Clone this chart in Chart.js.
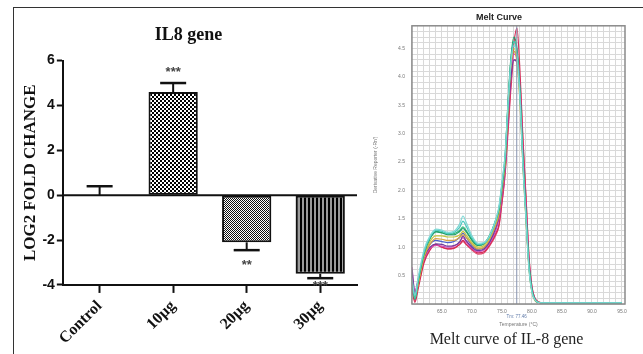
<!DOCTYPE html>
<html>
<head>
<meta charset="utf-8">
<script src="https://cdn.jsdelivr.net/npm/chart.js@4.4.1/dist/chart.umd.min.js"></script>
<style>
  html, body { margin: 0; padding: 0; background: #fff; }
  #wrap { position: relative; width: 643px; height: 354px; overflow: hidden; background: #fff; }
  #frame { position: absolute; left: 13px; top: 7px; width: 640px; height: 360px;
           border-top: 1.5px solid #333; border-left: 1.5px solid #333; }
  #c1 { position: absolute; left: 0; top: 0; }
  #c2 { position: absolute; left: 370px; top: 8px; }
  #caption { position: absolute; left: 370px; top: 330px; width: 273px; text-align: center;
             font-family: 'Liberation Serif', serif; font-size: 16px; color: #222; }
</style>
</head>
<body>
<div id="wrap">
  <div id="frame"></div>
  <canvas id="c1" width="365" height="354"></canvas>
  <canvas id="c2" width="273" height="346"></canvas>
  <div id="caption">Melt curve of IL-8 gene</div>
</div>
<script>
// ---------- Left panel data ----------
const categories = ['Control', '10µg', '20µg', '30µg'];
const foldChange = [0, 4.6, -2.1, -3.5];
const foldError = [0.4, 0.4, 0.35, 0.2];
const significance = ['', '***', '**', '***'];

// ---------- Right panel data (melt curve) ----------
const temps = [60, 60.5, 61, 62, 63, 64, 65, 66, 67, 68, 68.5, 69, 70, 71, 72, 73, 74, 74.5, 75, 75.5, 76, 76.5, 77, 77.5, 78, 78.5, 79, 79.5, 80, 80.5, 81, 82, 85, 90, 95];
const cyanA   = [0.45,0.15,0.45,0.95,1.20,1.32,1.30,1.26,1.28,1.42,1.55,1.45,1.20,1.07,1.08,1.22,1.50,1.72,2.15,2.60,3.50,4.25,4.55,4.35,3.60,2.40,1.50,0.60,0.20,0.07,0.03,0.02,0.02,0.02,0.02];
const cyanB   = [0.40,0.10,0.40,0.90,1.17,1.30,1.28,1.24,1.26,1.36,1.46,1.38,1.17,1.05,1.07,1.20,1.48,1.70,2.12,2.60,3.50,4.30,4.62,4.40,3.70,2.50,1.55,0.65,0.22,0.08,0.03,0.02,0.02,0.02,0.02];
const greenA  = [0.38,0.08,0.38,0.88,1.15,1.27,1.25,1.22,1.22,1.28,1.33,1.28,1.12,1.03,1.06,1.22,1.50,1.68,2.10,2.55,3.55,4.35,4.70,4.50,3.75,2.55,1.60,0.70,0.25,0.08,0.03,0.02,0.02,0.02,0.02];
const greenB  = [0.42,0.12,0.40,0.90,1.16,1.28,1.26,1.23,1.24,1.30,1.36,1.30,1.14,1.04,1.07,1.22,1.48,1.66,2.08,2.52,3.50,4.30,4.62,4.45,3.72,2.52,1.58,0.68,0.24,0.08,0.03,0.02,0.02,0.02,0.02];
const yellowA = [0.35,0.10,0.35,0.85,1.10,1.20,1.20,1.18,1.18,1.22,1.28,1.22,1.08,1.00,1.03,1.18,1.45,1.63,2.05,2.50,3.45,4.25,4.50,4.30,3.60,2.45,1.50,0.65,0.22,0.07,0.03,0.02,0.02,0.02,0.02];
const orangeA = [0.33,0.10,0.33,0.82,1.05,1.15,1.14,1.12,1.12,1.18,1.22,1.18,1.05,0.97,1.00,1.15,1.40,1.58,2.00,2.45,3.40,4.20,4.45,4.25,3.55,2.40,1.48,0.62,0.20,0.06,0.03,0.02,0.02,0.02,0.02];
const purpleA = [0.60,0.20,0.40,0.82,1.00,1.06,1.05,1.02,1.03,1.10,1.20,1.12,1.00,0.94,0.97,1.10,1.35,1.55,1.95,2.40,3.30,4.00,4.30,4.25,3.70,2.55,1.60,0.70,0.24,0.08,0.03,0.02,0.02,0.02,0.02];
const magentaA= [0.65,0.22,0.42,0.80,0.98,1.03,1.02,1.00,1.02,1.10,1.17,1.10,0.98,0.92,0.95,1.08,1.30,1.50,1.90,2.35,3.25,4.00,4.40,4.35,3.80,2.65,1.70,0.75,0.27,0.09,0.03,0.02,0.02,0.02,0.02];
const redA    = [0.25,0.03,0.25,0.72,0.95,1.05,1.00,0.97,0.98,1.06,1.12,1.06,0.97,0.90,0.92,1.05,1.25,1.40,1.80,2.30,3.10,3.90,4.60,4.86,4.10,2.90,1.90,0.85,0.30,0.10,0.04,0.02,0.02,0.02,0.02];
const redB    = [0.30,0.05,0.30,0.75,0.97,1.04,1.00,0.97,0.99,1.05,1.10,1.05,0.95,0.88,0.90,1.03,1.22,1.37,1.78,2.25,3.00,3.80,4.30,4.30,3.90,2.85,1.85,0.82,0.30,0.10,0.04,0.02,0.02,0.02,0.02];
const blueA   = [0.50,0.15,0.40,0.85,1.05,1.12,1.10,1.08,1.10,1.18,1.25,1.18,1.03,0.96,0.99,1.12,1.38,1.56,1.98,2.45,3.40,4.15,4.45,4.35,3.70,2.50,1.55,0.68,0.23,0.07,0.03,0.02,0.02,0.02,0.02];
const meltTm = 77.46;

// ---------- Patterns ----------
function makePattern(w, h, draw) {
  const c = document.createElement('canvas');
  c.width = w; c.height = h;
  const g = c.getContext('2d');
  draw(g);
  return g.createPattern(c, 'repeat');
}
const checkerCoarse = makePattern(4, 4, g => {
  g.fillStyle = '#fff'; g.fillRect(0, 0, 4, 4);
  g.fillStyle = '#000'; g.fillRect(0, 0, 2, 2); g.fillRect(2, 2, 2, 2);
});
const checkerFine = makePattern(2, 2, g => {
  g.fillStyle = '#fff'; g.fillRect(0, 0, 2, 2);
  g.fillStyle = '#111'; g.fillRect(0, 0, 1, 1); g.fillRect(1, 1, 1, 1);
});
const stripes = makePattern(4, 4, g => {
  g.fillStyle = '#9a9a9a'; g.fillRect(0, 0, 4, 4);
  g.fillStyle = '#000'; g.fillRect(0, 0, 2, 4);
});

// ---------- Left chart plugins ----------
const zeroLine = {
  id: 'zeroLine',
  afterDatasetsDraw(chart) {
    const {ctx, chartArea, scales} = chart;
    const y = scales.y.getPixelForValue(0);
    ctx.save();
    ctx.strokeStyle = '#111'; ctx.lineWidth = 2;
    ctx.beginPath(); ctx.moveTo(chartArea.left, y); ctx.lineTo(chartArea.right, y); ctx.stroke();
    ctx.restore();
  }
};
const errorBars = {
  id: 'errorBars',
  afterDatasetsDraw(chart) {
    const {ctx, chartArea, scales} = chart;
    const meta = chart.getDatasetMeta(0);
    ctx.save();
    meta.data.forEach((el, i) => {
      const v = foldChange[i], e = foldError[i];
      const dir = v >= 0 ? 1 : -1;
      const x = el.x;
      const yv = scales.y.getPixelForValue(v);
      const ye = scales.y.getPixelForValue(v + dir * e);
      ctx.strokeStyle = '#111'; ctx.lineWidth = 2;
      ctx.beginPath(); ctx.moveTo(x, yv); ctx.lineTo(x, ye); ctx.stroke();
      ctx.lineWidth = 2.5;
      ctx.beginPath(); ctx.moveTo(x - 13, ye); ctx.lineTo(x + 13, ye); ctx.stroke();
      if (significance[i]) {
        let ty = ye - dir * 13;
        ty = Math.min(ty, chartArea.bottom);
        ctx.fillStyle = '#444';
        ctx.font = 'bold 13px "Liberation Sans"';
        ctx.textAlign = 'center'; ctx.textBaseline = 'middle';
        ctx.fillText(significance[i], x, ty + 2);
      }
    });
    ctx.restore();
  }
};

new Chart(document.getElementById('c1'), {
  type: 'bar',
  data: {
    labels: categories,
    datasets: [{
      data: foldChange,
      backgroundColor: ['#fff', checkerCoarse, checkerFine, stripes],
      borderColor: '#111',
      borderWidth: 2,
      borderSkipped: false,
      barPercentage: 0.67,
      categoryPercentage: 1.0
    }]
  },
  options: {
    responsive: false,
    devicePixelRatio: 1,
    animation: false,
    layout: { padding: { left: 20, top: 0, right: 8, bottom: 2 } },
    plugins: {
      legend: { display: false },
      tooltip: { enabled: false },
      title: {
        display: true, text: 'IL8 gene', color: '#111',
        font: { family: 'Liberation Serif', size: 18, weight: 'bold' },
        padding: { top: 25, bottom: 14 }
      }
    },
    scales: {
      y: {
        min: -4, max: 6,
        ticks: { stepSize: 2, color: '#111', padding: 2,
                 font: { family: 'Liberation Sans', size: 14, weight: 'bold' } },
        grid: { drawOnChartArea: false, drawTicks: true, tickLength: 6, tickWidth: 2, tickColor: '#111' },
        border: { display: true, color: '#111', width: 2 },
        title: { display: true, text: 'LOG2 FOLD CHANGE', color: '#111',
                 font: { family: 'Liberation Serif', size: 17, weight: 'bold' },
                 padding: { top: 0, bottom: 0 } }
      },
      x: {
        offset: true,
        ticks: { minRotation: 45, maxRotation: 45, color: '#111', padding: 4,
                 font: { family: 'Liberation Serif', size: 16, weight: 'bold' } },
        grid: { offset: false, drawOnChartArea: false, tickLength: 8, tickWidth: 2, tickColor: '#111' },
        border: { display: true, color: '#111', width: 2 }
      }
    }
  },
  plugins: [zeroLine, errorBars]
});

// ---------- Right chart ----------
const meltColors = ['#7fd9d6', '#4cc9c0', '#1f9e6a', '#33b87a', '#c4c63c', '#d9a445', '#6d3c9c', '#d24cba', '#d42a55', '#e2486e', '#4a5ed0'];
const meltValues = [cyanA, cyanB, greenA, greenB, yellowA, orangeA, purpleA, magentaA, redA, redB, blueA];

const plotFrame = {
  id: 'plotFrame',
  afterDraw(chart) {
    const {ctx, chartArea, scales} = chart;
    ctx.save();
    const xt = scales.x.getPixelForValue(meltTm);
    ctx.strokeStyle = '#8894b0'; ctx.lineWidth = 1;
    ctx.beginPath(); ctx.moveTo(xt, chartArea.top); ctx.lineTo(xt, chartArea.bottom); ctx.stroke();
    ctx.strokeStyle = '#8a8a8a'; ctx.lineWidth = 1.5;
    ctx.strokeRect(chartArea.left, chartArea.top, chartArea.right - chartArea.left, chartArea.bottom - chartArea.top);
    ctx.fillStyle = '#5f7aa8';
    ctx.font = '4.5px "Liberation Sans"';
    ctx.textAlign = 'center'; ctx.textBaseline = 'middle';
    ctx.fillText('Tm: ' + meltTm.toFixed(2), xt, chartArea.bottom + 13);
    ctx.restore();
  }
};

new Chart(document.getElementById('c2'), {
  type: 'line',
  data: {
    datasets: meltValues.map((vals, k) => ({
      data: temps.map((t, i) => ({ x: t, y: vals[i] })),
      borderColor: meltColors[k],
      borderWidth: 1.2,
      pointRadius: 0,
      fill: false,
      cubicInterpolationMode: 'monotone'
    }))
  },
  options: {
    responsive: false,
    devicePixelRatio: 1,
    animation: false,
    layout: { padding: { left: 3, top: 0, right: 18, bottom: 26 } },
    plugins: {
      legend: { display: false },
      tooltip: { enabled: false },
      title: {
        display: true, text: 'Melt Curve', color: '#222',
        font: { family: 'Liberation Sans', size: 9, weight: 'bold' },
        padding: { top: 4, bottom: 3 }
      }
    },
    scales: {
      x: {
        type: 'linear', min: 60, max: 95.5,
        ticks: {
          stepSize: 1, autoSkip: false, maxRotation: 0, maxTicksLimit: 1000, includeBounds: false,
          color: '#777', padding: 5, font: { family: 'Liberation Sans', size: 5 },
          callback: v => (v % 5 === 0 && v > 60) ? v.toFixed(1) : ''
        },
        grid: { color: '#d9d9d9', lineWidth: 1, drawTicks: false },
        border: { display: false },
        title: { display: true, text: 'Temperature (°C)', color: '#777',
                 font: { family: 'Liberation Sans', size: 5 }, padding: { top: 2, bottom: 0 } }
      },
      y: {
        min: 0, max: 4.9,
        ticks: {
          stepSize: 0.1, autoSkip: false, maxTicksLimit: 1000,
          color: '#777', padding: 7, font: { family: 'Liberation Sans', size: 5 },
          callback: v => (v > 0.01 && Math.abs(v * 2 - Math.round(v * 2)) < 1e-6) ? v.toFixed(1) : ''
        },
        grid: { color: '#d9d9d9', lineWidth: 1, drawTicks: false },
        border: { display: false },
        title: { display: true, text: "Derivative Reporter (-Rn')", color: '#777',
                 font: { family: 'Liberation Sans', size: 5 }, padding: { top: 0, bottom: 12 } }
      }
    }
  },
  plugins: [plotFrame]
});
</script>
</body>
</html>
